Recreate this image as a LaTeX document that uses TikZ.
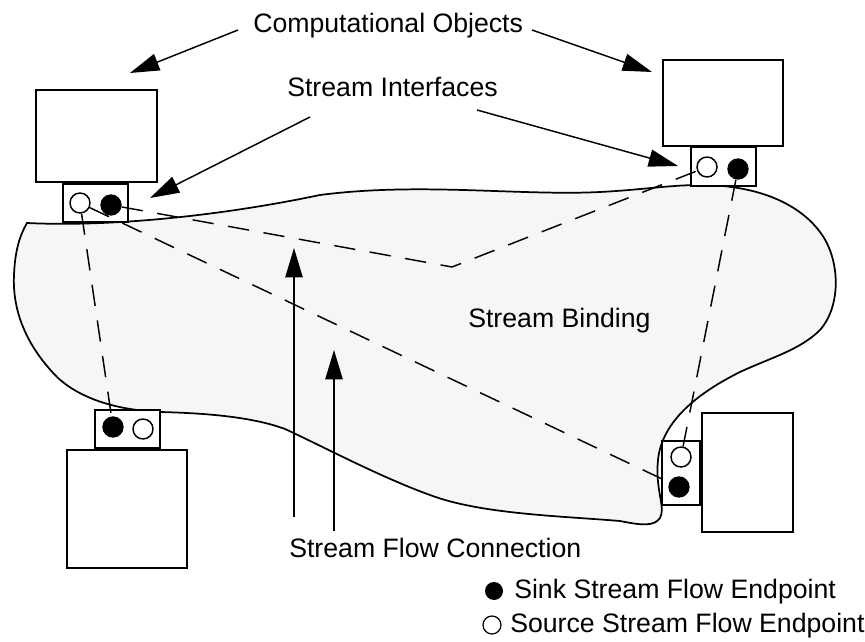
\documentclass[tikz,border=0pt]{standalone}
\usepackage{fontspec}
\setmainfont{Liberation Sans}
\usetikzlibrary{arrows.meta}
\definecolor{bindfill}{RGB}{246,246,246}
\tikzset{
    lbl/.style={font=\fontsize{20}{24}\selectfont, inner sep=0pt, anchor=base west},
    pointer/.style={-{Triangle[length=22pt,width=13pt]}, line width=1.1pt},
    sink/.style={circle, fill=black, inner sep=0pt, minimum size=16pt},
    source/.style={circle, draw, line width=1.1pt, fill=white, inner sep=0pt, minimum size=15pt},
    flowlink/.style={dash pattern=on 16pt off 11pt, line width=1.1pt},
    objbox/.style={draw, line width=1.3pt, fill=white},
}
\begin{document}
\begin{tikzpicture}[x=0.75pt, y=-0.75pt]
            \useasboundingbox (0,0) rectangle (865,642);

            \draw[line width=1.3pt, fill=bindfill] (27,223)
                .. controls (110,227) and (220,216) .. (320,195)
                .. controls (420,182) and (520,196) .. (600,192)
                .. controls (640,190) and (670,185) .. (700,185)
                .. controls (760,185) and (800,205) .. (820,232)
                .. controls (840,258) and (842,305) .. (820,330)
                .. controls (800,350) and (770,358) .. (740,372)
                .. controls (700,392) and (662,420) .. (658,460)
                .. controls (655,490) and (666,508) .. (660,518)
                .. controls (654,527) and (640,525) .. (620,521)
                .. controls (560,516) and (480,514) .. (430,495)
                .. controls (380,477) and (320,445) .. (285,429)
                .. controls (250,416) and (200,413) .. (160,412)
                .. controls (115,410) and (80,398) .. (58,378)
                .. controls (30,350) and (12,315) .. (14,275)
                .. controls (15,250) and (20,235) .. (27,223) -- cycle;

            \node[lbl] (binding) at (468,327) {Stream Binding};

            \draw[objbox] (36,90) rectangle (157,182);
            \draw[objbox] (663,60) rectangle (783,146);
            \draw[objbox] (67,450) rectangle (187,568);
            \draw[objbox] (702,413) rectangle (793,532);

            \draw[objbox] (63,184) rectangle (128,222);
            \draw[objbox] (691,147) rectangle (756,186);
            \draw[objbox] (95,410) rectangle (160,448);
            \draw[objbox] (662,441) rectangle (700,505);

            \node[source] (tlsrc) at (80,203) {};
            \node[sink] (tlsnk) at (111,205) {};
            \node[source] (trsrc) at (707,167) {};
            \node[sink] (trsnk) at (738,169) {};
            \node[sink] (blsnk) at (113,427) {};
            \node[source] (blsrc) at (143,429) {};
            \node[source] (brsrc) at (681,457) {};
            \node[sink] (brsnk) at (679,487) {};

            \coordinate (bend) at (452,267);
            \draw[flowlink] (tlsnk) -- (bend) -- (trsrc);
            \draw[flowlink] (tlsrc) -- (brsnk);
            \draw[flowlink] (tlsrc) -- (blsnk);
            \draw[flowlink] (trsnk) -- (brsrc);

            \node[lbl] (objects) at (253,33) {Computational Objects};
            \node[lbl] (ifaces) at (287,97) {Stream Interfaces};
            \node[lbl] (connection) at (289,557) {Stream Flow Connection};

            \coordinate (co1) at (238,30);
            \coordinate (co2) at (532,30);
            \coordinate (si1) at (310,117);
            \coordinate (si2) at (477,110);
            \coordinate (sf1) at (294,517);
            \coordinate (sf2) at (334,531);
            \draw[pointer] (co1) -- (130,73);
            \draw[pointer] (co2) -- (652,72);
            \draw[pointer] (si1) -- (150,198);
            \draw[pointer] (si2) -- (678,166);
            \draw[pointer] (sf1) -- (294,248);
            \draw[pointer] (sf2) -- (334,350);

            \node[sink, minimum size=13.5pt] (keysnk) at (494,591) {};
            \node[source, minimum size=13.5pt, line width=0.9pt] (keysrc) at (492,625) {};
            \node[lbl] (sinktext) at (514,598) {Sink Stream Flow Endpoint};
            \node[lbl] (srctext) at (510,632) {Source Stream Flow Endpoint};
\end{tikzpicture}
\end{document}
